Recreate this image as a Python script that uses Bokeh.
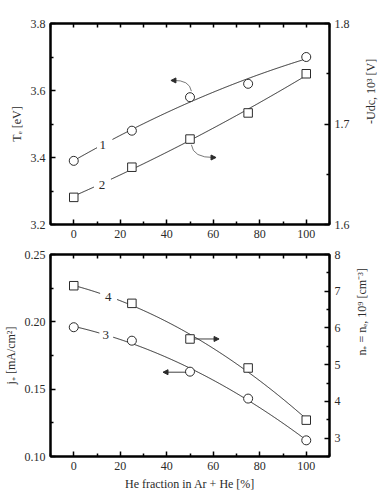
import numpy as np
from bokeh.plotting import figure
from bokeh.models import (Range1d, LinearAxis, Label, Arrow, NormalHead,
                          FixedTicker, NumeralTickFormatter)
from bokeh.layouts import column
from bokeh.embed import file_html
from bokeh.resources import INLINE

# ---------------- data ----------------
he_frac = [0, 25, 50, 75, 100]                    # He fraction in Ar + He [%]
te_ev = [3.39, 3.48, 3.58, 3.62, 3.70]            # curve 1, Te [eV] (a, left)
udc_kv = [1.627, 1.657, 1.685, 1.711, 1.750]      # curve 2, -Udc 10^3 V (a, right)
j_plus = [0.196, 0.186, 0.163, 0.143, 0.112]      # curve 3, j+ [mA/cm2] (b, left)
n_plus = [7.15, 6.67, 5.70, 4.91, 3.49]           # curve 4, n+ 10^9 cm-3 (b, right)

# ---------------- ticks ----------------
x_ticks = [0, 20, 40, 60, 80, 100]
x_minor = [-10, 10, 30, 50, 70, 90, 110]
x_top_marks = [-10, 0, 10, 20, 30, 40, 50, 60, 70, 80, 90, 100, 110]
te_ticks = [3.2, 3.4, 3.6, 3.8]
te_minor = [3.3, 3.5, 3.7]
udc_ticks = [1.6, 1.7, 1.8]
udc_minor = [1.65, 1.75]
j_ticks = [0.10, 0.15, 0.20, 0.25]
j_minor = [0.125, 0.175, 0.225]
n_ticks = [3, 4, 5, 6, 7, 8]
n_minor = [2.5, 3.5, 4.5, 5.5, 6.5, 7.5]

INK = "#2b2b2b"
SERIF = "Liberation Serif"


def fit_curve(x, y, gap):
    c = np.polyfit(x, y, 2)
    xs = np.linspace(min(x), max(x), 301)
    ys = np.polyval(c, xs)
    ys[(xs > gap[0]) & (xs < gap[1])] = np.nan
    return xs, ys


def style_axis(ax, ticker, fmt=None):
    ax.ticker = ticker
    if fmt is not None:
        ax.formatter = NumeralTickFormatter(format=fmt)
    ax.axis_line_color = "black"
    ax.axis_line_width = 2
    ax.major_tick_in = 5
    ax.major_tick_out = 0
    ax.minor_tick_in = 3
    ax.minor_tick_out = 0
    ax.major_tick_line_color = "black"
    ax.minor_tick_line_color = "black"
    ax.major_tick_line_width = 1.5
    ax.minor_tick_line_width = 1.5
    ax.major_label_text_font = SERIF
    ax.major_label_text_font_size = "12px"
    ax.major_label_text_color = INK
    ax.major_label_standoff = 5
    ax.axis_label_text_font = SERIF
    ax.axis_label_text_font_size = "12px"
    ax.axis_label_text_font_style = "normal"
    ax.axis_label_text_color = INK
    ax.axis_label_standoff = 4


def make_panel(yl, yr, tl, tr, fl, fr, label_l, label_r, xlabel, top, bottom, fh):
    p = figure(frame_width=279, frame_height=fh,
               x_range=Range1d(-10, 110), y_range=Range1d(*yl),
               output_backend="svg", toolbar_location=None,
               min_border_left=49, min_border_right=46,
               min_border_top=top, min_border_bottom=bottom,
               background_fill_color="white", border_fill_color="white")
    p.extra_y_ranges = {"r": Range1d(*yr)}
    p.grid.visible = False
    p.outline_line_color = "black"
    p.outline_line_width = 2
    style_axis(p.xaxis[0], FixedTicker(ticks=x_ticks, minor_ticks=x_minor))
    p.xaxis[0].axis_label = xlabel
    style_axis(p.yaxis[0], tl, fl)
    p.yaxis[0].axis_label = label_l
    ar = LinearAxis(y_range_name="r", axis_label=label_r)
    style_axis(ar, tr, fr)
    ar.axis_label_orientation = np.pi / 2
    ar.axis_label_standoff = 18
    p.add_layout(ar, "right")
    at = LinearAxis()
    style_axis(at, FixedTicker(ticks=[], minor_ticks=x_top_marks))
    at.minor_tick_in = 4
    p.add_layout(at, "above")
    return p


# ---------------- panel (a) ----------------
pa = make_panel((3.2, 3.8), (1.6, 1.8),
                FixedTicker(ticks=te_ticks, minor_ticks=te_minor),
                FixedTicker(ticks=udc_ticks, minor_ticks=udc_minor),
                "0.0", "0.0", "Tₑ [eV]", "-Udc, 10³ [V]", None, 23, 18, 201)

xs, ys = fit_curve(he_frac, te_ev, (10.0, 16.6))
pa.line(xs, ys, line_color=INK, line_width=1)
pa.scatter(he_frac, te_ev, marker="circle", size=9, fill_color="white",
           line_color=INK, line_width=1)
xs, ys = fit_curve(he_frac, udc_kv, (8.8, 15.8))
pa.line(xs, ys, line_color=INK, line_width=1, y_range_name="r")
pa.scatter(he_frac, udc_kv, marker="square", size=8.5, fill_color="white",
           line_color=INK, line_width=1, y_range_name="r")

pa.add_layout(Label(x=12.5, y=3.436, text="1", text_font=SERIF,
                    text_font_size="13px", text_color=INK,
                    text_align="center", text_baseline="middle"))
pa.add_layout(Label(x=12.1, y=1.6397, y_range_name="r", text="2", text_font=SERIF,
                    text_font_size="13px", text_color=INK,
                    text_align="center", text_baseline="middle"))
# curved arrows
pa.quadratic(x0=[50.6], y0=[3.598], cx=[49.8], cy=[3.632], x1=[42.6], y1=[3.630],
             line_color="#555555", line_width=0.8)
pa.add_layout(Arrow(end=NormalHead(size=5, fill_color=INK, line_color=INK),
                    x_start=43.5, y_start=3.630, x_end=41.8, y_end=3.630,
                    line_color=INK, line_width=0.8))
pa.quadratic(x0=[50.6], y0=[3.438], cx=[51.3], cy=[3.399], x1=[60.3], y1=[3.400],
             line_color="#555555", line_width=0.8)
pa.add_layout(Arrow(end=NormalHead(size=5, fill_color=INK, line_color=INK),
                    x_start=59.5, y_start=3.400, x_end=61.2, y_end=3.400,
                    line_color=INK, line_width=0.8))
pa.add_layout(Label(x=-31.5, y=3.8, text="(a)", text_font="Liberation Sans",
                    text_font_size="14px", text_color=INK,
                    text_align="left", text_baseline="middle"))

# ---------------- panel (b) ----------------
pb = make_panel((0.10, 0.25), (2.5, 8.0),
                FixedTicker(ticks=j_ticks, minor_ticks=j_minor),
                FixedTicker(ticks=n_ticks, minor_ticks=n_minor),
                "0.00", "0", "j₊ [mA/cm²]", "n₊ = nₑ, 10⁹ [cm⁻³]",
                "He fraction in Ar + He [%]", 12, 35, 202)

xs, ys = fit_curve(he_frac, j_plus, (11.2, 16.8))
pb.line(xs, ys, line_color=INK, line_width=1)
pb.scatter(he_frac, j_plus, marker="circle", size=9, fill_color="white",
           line_color=INK, line_width=1)
xs, ys = fit_curve(he_frac, n_plus, (11.6, 18.6))
pb.line(xs, ys, line_color=INK, line_width=1, y_range_name="r")
pb.scatter(he_frac, n_plus, marker="square", size=8.5, fill_color="white",
           line_color=INK, line_width=1, y_range_name="r")

pb.add_layout(Label(x=13.8, y=0.19, text="3", text_font=SERIF,
                    text_font_size="13px", text_color=INK,
                    text_align="center", text_baseline="middle"))
pb.add_layout(Label(x=14.8, y=6.84, y_range_name="r", text="4", text_font=SERIF,
                    text_font_size="13px", text_color=INK,
                    text_align="center", text_baseline="middle"))
pb.add_layout(Arrow(end=NormalHead(size=5, fill_color=INK, line_color=INK),
                    x_start=48.3, y_start=0.1626, x_end=38.4, y_end=0.1626,
                    line_color=INK, line_width=0.9))
pb.add_layout(Arrow(end=NormalHead(size=5, fill_color=INK, line_color=INK),
                    x_start=51.9, y_start=5.70, x_end=62.5, y_end=5.70,
                    y_range_name="r", line_color=INK, line_width=0.9))
pb.add_layout(Label(x=-31.5, y=0.25, text="(b)", text_font="Liberation Sans",
                    text_font_size="14px", text_color=INK,
                    text_align="left", text_baseline="middle"))

layout = column(pa, pb, spacing=0)
open("out.html", "w").write(file_html(layout, INLINE))
